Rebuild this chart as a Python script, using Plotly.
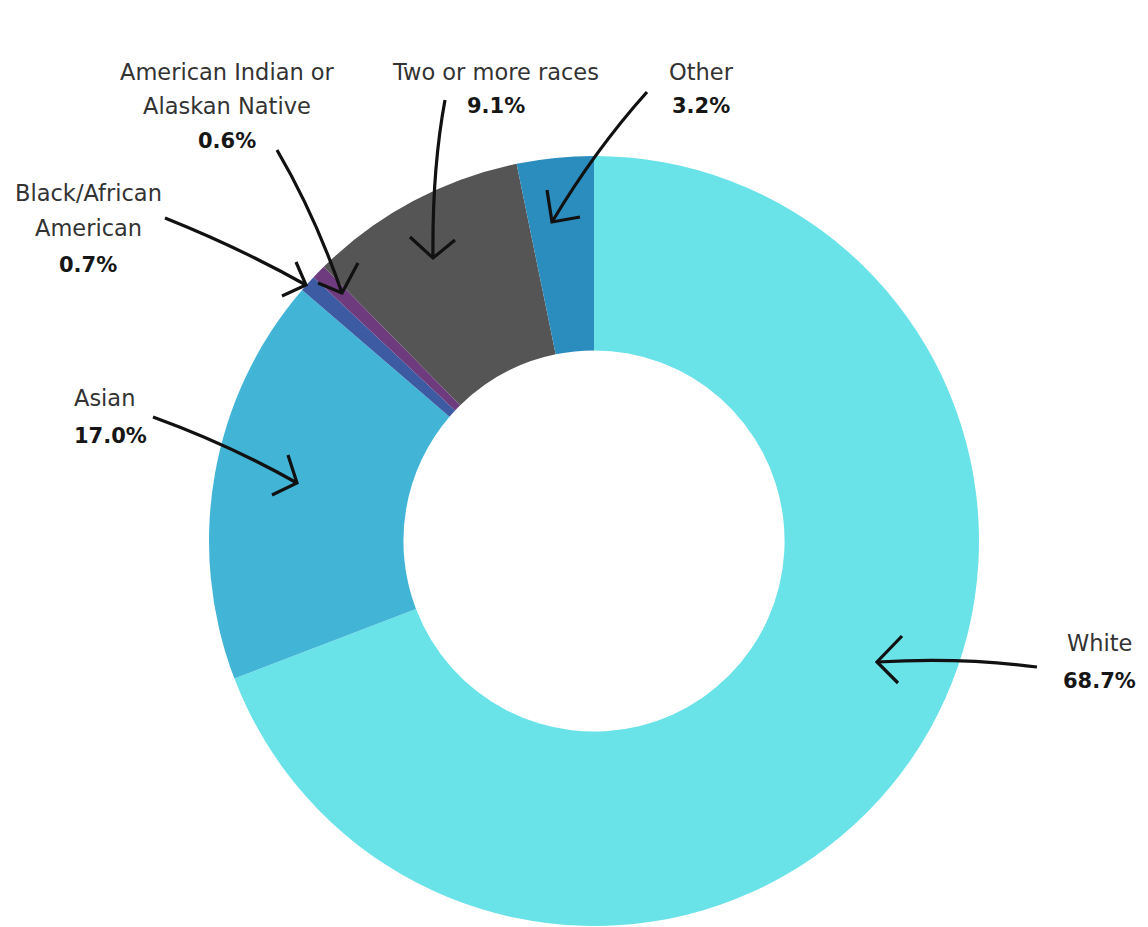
import plotly.graph_objects as go

W, H = 1148, 927

categories = ["White", "Asian", "Black/African American", "American Indian or Alaskan Native",
              "Two or more races", "Other"]
values = [68.7, 17.0, 0.7, 0.6, 9.1, 3.2]
colors = ["#69E2E8", "#42B5D7", "#3D5BA3", "#6E3C7E", "#555555", "#2B8CBE"]

def px(x):
    return x / W

def py(y):
    return 1 - y / H

cx, cy, R = 594, 541, 385

fig = go.Figure(go.Pie(
    labels=categories, values=values, hole=0.495, sort=False, direction="clockwise",
    rotation=0, marker=dict(colors=colors, line=dict(width=0)),
    textinfo="none", hoverinfo="label+percent",
    domain=dict(x=[px(cx - R), px(cx + R)], y=[py(cy + R), py(cy - R)]),
    showlegend=False,
))

FONT = "DejaVu Sans"
label_lines = [
    # (x, y, text, bold, anchor)
    (227, 72, "American Indian or", False, "center"),
    (227, 106, "Alaskan Native", False, "center"),
    (227, 141, "0.6%", True, "center"),
    (88, 193, "Black/African", False, "center"),
    (88, 228, "American", False, "center"),
    (88, 265, "0.7%", True, "center"),
    (72, 398, "Asian", False, "left"),
    (72, 436, "17.0%", True, "left"),
    (495, 72, "Two or more races", False, "center"),
    (496, 106, "9.1%", True, "center"),
    (701, 72, "Other", False, "center"),
    (701, 106, "3.2%", True, "center"),
    (1099, 643, "White", False, "center"),
    (1099, 681, "68.7%", True, "center"),
]
for x, y, t, b, anc in label_lines:
    fig.add_annotation(
        x=px(x), y=py(y), xref="paper", yref="paper", showarrow=False,
        text=f"<b>{t}</b>" if b else t, xanchor=anc, yanchor="middle",
        font=dict(family=FONT, size=21 if b else 22.5,
                  color="#161616" if b else "#333333"),
    )

# hand-drawn style arrows: (tail, control, tip, arm1, arm2)
arrows = [
    ((1037, 667), (960, 657), (877, 662), (902, 636), (898, 683)),
    ((153, 417), (230, 445), (297, 483), (288, 455), (272, 495)),
    ((165, 218), (240, 248), (306, 285), (296, 262), (282, 296)),
    ((277, 150), (315, 215), (342, 293), (358, 263), (318, 283)),
    ((445, 100), (432, 170), (433, 258), (410, 237), (455, 240)),
    ((647, 92), (595, 150), (552, 222), (547, 190), (580, 217)),
]

def P(pt):
    return f"{px(pt[0]):.5f},{py(pt[1]):.5f}"

for tail, ctrl, tip, a1, a2 in arrows:
    path = f"M {P(tail)} Q {P(ctrl)} {P(tip)}"
    fig.add_shape(type="path", path=path, xref="paper", yref="paper",
                  line=dict(color="#111111", width=3.2))
    head = f"M {P(a1)} L {P(tip)} L {P(a2)}"
    fig.add_shape(type="path", path=head, xref="paper", yref="paper",
                  line=dict(color="#111111", width=3.2))

fig.update_layout(
    width=W, height=H, margin=dict(l=0, r=0, t=0, b=0),
    paper_bgcolor="white", plot_bgcolor="white",
)

fig.write_html("out.html")
